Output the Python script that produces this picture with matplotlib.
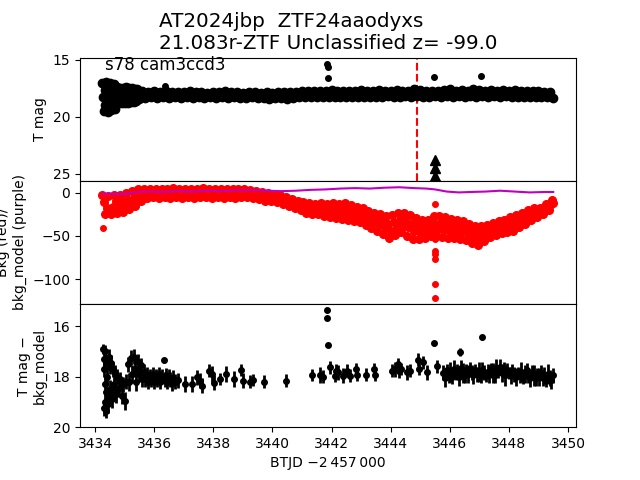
import matplotlib
matplotlib.use('Agg')
from matplotlib import pyplot as plt

TITLE = 'AT2024jbp  ZTF24aaodyxs\n21.083r-ZTF Unclassified z= -99.0'
SECTOR = 's78 cam3ccd3'
DISCOVERY = 3444.9
TMAG_ERR = 0.3

# full-cadence light curve (BTJD) and T mag
btjd = [
    3434.250, 3434.275, 3434.300, 3434.325, 3434.350, 3434.375, 3434.400,
    3434.425, 3434.450, 3434.475, 3434.500, 3434.525, 3434.550, 3434.575,
    3434.600, 3434.625, 3434.650, 3434.675, 3434.700, 3434.725, 3434.750,
    3434.775, 3434.800, 3434.825, 3434.850, 3434.875, 3434.900, 3434.925,
    3434.950, 3434.975, 3435.000, 3435.025, 3435.050, 3435.075, 3435.100,
    3435.125, 3435.150, 3435.175, 3435.200, 3435.225, 3435.250, 3435.275,
    3435.300, 3435.325, 3435.350, 3435.375, 3435.400, 3435.425, 3435.450,
    3435.475, 3435.500,
    3435.6, 3435.7, 3435.8, 3435.9, 3436.0, 3436.1, 3436.2, 3436.3, 3436.4, 3436.5,
    3436.6, 3436.7, 3436.8, 3436.9, 3437.0, 3437.1, 3437.2, 3437.3, 3437.4, 3437.5,
    3437.6, 3437.7, 3437.8, 3437.9, 3438.0, 3438.1, 3438.2, 3438.3, 3438.4, 3438.5,
    3438.6, 3438.7, 3438.8, 3438.9, 3439.0, 3439.1, 3439.2, 3439.3, 3439.4, 3439.5,
    3439.6, 3439.7, 3439.8, 3439.9, 3440.0, 3440.1, 3440.2, 3440.3, 3440.4, 3440.5,
    3440.6, 3440.7, 3440.8, 3440.9, 3441.0, 3441.1, 3441.2, 3441.3, 3441.4, 3441.5,
    3441.6, 3441.7, 3441.8, 3441.9, 3442.0, 3442.1, 3442.2, 3442.3, 3442.4, 3442.5,
    3442.6, 3442.7, 3442.8, 3442.9, 3443.0, 3443.1, 3443.2, 3443.3, 3443.4, 3443.5,
    3443.6, 3443.7, 3443.8, 3443.9, 3444.0, 3444.1, 3444.2, 3444.3, 3444.4, 3444.5,
    3444.6, 3444.7, 3444.8, 3444.9, 3445.0, 3445.1, 3445.2, 3445.3, 3445.4, 3445.5,
    3445.6, 3445.7, 3445.8, 3445.9, 3446.0, 3446.1, 3446.2, 3446.3, 3446.4, 3446.5,
    3446.6, 3446.7, 3446.8, 3446.9, 3447.0, 3447.1, 3447.2, 3447.3, 3447.4, 3447.5,
    3447.6, 3447.7, 3447.8, 3447.9, 3448.0, 3448.1, 3448.2, 3448.3, 3448.4, 3448.5,
    3448.6, 3448.7, 3448.8, 3448.9, 3449.0, 3449.1, 3449.2, 3449.3, 3449.4, 3449.5,
]
tmag = [
    17.00, 18.30, 19.50, 17.65, 18.95, 16.95, 18.25,
    19.55, 17.60, 18.90, 17.00, 18.30, 19.40, 17.70,
    18.90, 17.10, 18.30, 19.30, 17.80, 18.80, 17.40,
    18.00, 18.80, 18.40, 17.50, 18.10, 18.80, 18.40,
    17.45, 17.95, 18.75, 18.35, 17.40, 18.00, 18.80,
    18.40, 17.45, 17.95, 18.70, 18.30, 17.50, 18.00,
    18.70, 18.30, 17.55, 18.10, 18.60, 17.60, 18.45,
    17.70, 18.40,
    17.75, 18.35, 17.80, 18.30, 17.70, 18.35, 17.85, 18.30, 17.75, 18.35,
    17.80, 18.30, 17.85, 18.35, 17.80, 18.30, 17.75, 18.35, 17.85, 18.30,
    17.80, 18.35, 17.90, 18.30, 17.80, 18.35, 17.85, 18.30, 17.75, 18.35,
    17.85, 18.30, 17.80, 18.35, 17.90, 18.35, 17.80, 18.30, 17.85, 18.35,
    17.90, 18.35, 17.85, 18.40, 17.90, 18.35, 17.85, 18.35, 17.80, 18.40,
    17.85, 18.35, 17.80, 18.30, 17.75, 18.30, 17.70, 18.25, 17.75, 18.30,
    17.70, 18.25, 17.75, 18.30, 17.65, 18.25, 17.75, 18.25, 17.70, 18.30,
    17.75, 18.25, 17.70, 18.30, 17.65, 18.25, 17.75, 18.25, 17.70, 18.25,
    17.65, 18.25, 17.75, 18.20, 17.70, 18.25, 17.65, 18.25, 17.75, 18.20,
    17.70, 18.25, 17.60, 18.20, 17.65, 18.25, 17.75, 18.30, 17.70, 18.20,
    17.75, 18.25, 17.65, 18.20, 17.60, 18.25, 17.70, 18.20, 17.65, 18.25,
    17.70, 18.20, 17.60, 18.25, 17.65, 18.20, 17.75, 18.25, 17.65, 18.20,
    17.70, 18.25, 17.65, 18.20, 17.70, 18.25, 17.65, 18.25, 17.75, 18.25,
    17.70, 18.25, 17.75, 18.30, 17.70, 18.30, 17.80, 18.30, 17.85, 18.35,
]

# background flux
bkg_t = [
    3434.25, 3434.30, 3434.35, 3434.40, 3434.45, 3434.50, 3434.55, 3434.60, 3434.65, 3434.70,
    3434.75, 3434.80, 3434.85, 3434.90, 3434.95, 3435.00, 3435.05, 3435.10, 3435.15, 3435.20,
    3435.25, 3435.30, 3435.35, 3435.40, 3435.45, 3435.50, 3435.55, 3435.60, 3435.65, 3435.70,
    3435.75, 3435.80, 3435.85, 3435.90, 3435.95, 3436.00, 3436.05, 3436.10, 3436.15, 3436.20,
    3436.25, 3436.30, 3436.35, 3436.40, 3436.45, 3436.50, 3436.55, 3436.60, 3436.65, 3436.70,
    3436.75, 3436.80, 3436.85, 3436.90, 3436.95, 3437.00, 3437.05, 3437.10, 3437.15, 3437.20,
    3437.25, 3437.30, 3437.35, 3437.40, 3437.45, 3437.50, 3437.55, 3437.60, 3437.65, 3437.70,
    3437.75, 3437.80, 3437.85, 3437.90, 3437.95, 3438.00, 3438.05, 3438.10, 3438.15, 3438.20,
    3438.25, 3438.30, 3438.35, 3438.40, 3438.45, 3438.50, 3438.55, 3438.60, 3438.65, 3438.70,
    3438.75, 3438.80, 3438.85, 3438.90, 3438.95, 3439.00, 3439.05, 3439.10, 3439.15, 3439.20,
    3439.25, 3439.30, 3439.35, 3439.40, 3439.45, 3439.50, 3439.55, 3439.60, 3439.65, 3439.70,
    3439.75, 3439.80, 3439.85, 3439.90, 3439.95, 3440.00, 3440.05, 3440.10, 3440.15, 3440.20,
    3440.25, 3440.30, 3440.35, 3440.40, 3440.45, 3440.50, 3440.55, 3440.60, 3440.65, 3440.70,
    3440.75, 3440.80, 3440.85, 3440.90, 3440.95, 3441.00, 3441.05, 3441.10, 3441.15, 3441.20,
    3441.25, 3441.30, 3441.35, 3441.40, 3441.45, 3441.50, 3441.55, 3441.60, 3441.65, 3441.70,
    3441.75, 3441.80, 3441.85, 3441.90, 3441.95, 3442.00, 3442.05, 3442.10, 3442.15, 3442.20,
    3442.25, 3442.30, 3442.35, 3442.40, 3442.45, 3442.50, 3442.55, 3442.60, 3442.65, 3442.70,
    3442.75, 3442.80, 3442.85, 3442.90, 3442.95, 3443.00, 3443.05, 3443.10, 3443.15, 3443.20,
    3443.25, 3443.30, 3443.35, 3443.40, 3443.45, 3443.50, 3443.55, 3443.60, 3443.65, 3443.70,
    3443.75, 3443.80, 3443.85, 3443.90, 3443.95, 3444.00, 3444.05, 3444.10, 3444.15, 3444.20,
    3444.25, 3444.30, 3444.35, 3444.40, 3444.45, 3444.50, 3444.55, 3444.60, 3444.65, 3444.70,
    3444.75, 3444.80, 3444.85, 3444.90, 3444.95, 3445.00, 3445.05, 3445.10, 3445.15, 3445.20,
    3445.25, 3445.30, 3445.35, 3445.40, 3445.45, 3445.50, 3445.55, 3445.60, 3445.65, 3445.70,
    3445.75, 3445.80, 3445.85, 3445.90, 3445.95, 3446.00, 3446.05, 3446.10, 3446.15, 3446.20,
    3446.25, 3446.30, 3446.35, 3446.40, 3446.45, 3446.50, 3446.55, 3446.60, 3446.65, 3446.70,
    3446.75, 3446.80, 3446.85, 3446.90, 3446.95, 3447.00, 3447.05, 3447.10, 3447.15, 3447.20,
    3447.25, 3447.30, 3447.35, 3447.40, 3447.45, 3447.50, 3447.55, 3447.60, 3447.65, 3447.70,
    3447.75, 3447.80, 3447.85, 3447.90, 3447.95, 3448.00, 3448.05, 3448.10, 3448.15, 3448.20,
    3448.25, 3448.30, 3448.35, 3448.40, 3448.45, 3448.50, 3448.55, 3448.60, 3448.65, 3448.70,
    3448.75, 3448.80, 3448.85, 3448.90, 3448.95, 3449.00, 3449.05, 3449.10, 3449.15, 3449.20,
    3449.25, 3449.30, 3449.35, 3449.40, 3449.45, 3449.50,
]
bkg = [
    -3, -11, -24, -18, -4, -20, -25, -16, -3, -10,
    -23, -17, -2, -10, -22, -15, 0, -8, -19, -13,
    2, -6, -15, -9, 4, -2, -10, -4, 5, -1,
    -6, -2, 5, 1, -5, -2, 4, 1, -6, -1,
    5, 2, -5, -2, 4, 0, -6, -2, 6, 1,
    -5, -1, 4, 1, -6, -2, 5, 1, -5, -2,
    4, 0, -6, -2, 5, 2, -5, -1, 6, 1,
    -5, -2, 4, 0, -6, -2, 5, 1, -5, -1,
    4, 1, -6, -2, 5, 1, -5, -2, 4, 0,
    -6, -2, 4, 1, -5, -1, 4, 0, -5, -2,
    3, -1, -6, -3, 2, -2, -7, -4, 1, -3,
    -9, -5, 0, -4, -10, -6, -2, -5, -11, -7,
    -3, -7, -13, -9, -5, -9, -15, -11, -7, -11,
    -18, -13, -9, -14, -20, -15, -11, -16, -23, -17,
    -12, -16, -24, -19, -13, -17, -25, -20, -12, -18,
    -27, -21, -13, -18, -28, -22, -12, -19, -29, -23,
    -13, -20, -30, -24, -12, -20, -31, -25, -14, -22,
    -33, -26, -16, -23, -34, -27, -18, -25, -37, -30,
    -21, -28, -41, -34, -23, -31, -44, -37, -25, -34,
    -48, -40, -27, -36, -52, -44, -26, -34, -49, -41,
    -23, -31, -46, -38, -23, -33, -50, -40, -26, -36,
    -53, -44, -29, -38, -54, -45, -32, -40, -52, -44,
    -32, -40, -50, -42, -27, -36, -50, -42, -27, -35,
    -51, -43, -28, -37, -52, -44, -30, -38, -52, -45,
    -32, -40, -53, -46, -33, -41, -55, -48, -36, -44,
    -58, -51, -39, -46, -60, -52, -39, -46, -56, -48,
    -37, -43, -51, -45, -35, -41, -49, -43, -33, -39,
    -47, -41, -31, -37, -45, -40, -28, -35, -44, -38,
    -26, -32, -40, -35, -23, -29, -36, -31, -20, -26,
    -32, -27, -18, -23, -28, -24, -17, -20, -24, -20,
    -13, -17, -20, -14, -8, -12,
]

# isolated bright points and upper limits
flare_t = [3436.37, 3441.85, 3441.87, 3441.87, 3445.47, 3447.06]
flare_mag = [17.34, 15.38, 15.67, 16.60, 16.52, 16.40]
limit_t = [3445.5, 3445.5, 3445.5]
limit_mag = [23.8, 24.5, 25.2]

# background outliers
out_t = [3434.28, 3445.5, 3445.5, 3445.5, 3445.5, 3445.5, 3445.5, 3445.5]
out_bkg = [-41, -13, -53, -68, -71, -77, -106, -122]

# background model
model_t = [
    3434.25, 3434.5, 3434.8, 3435.1, 3435.4, 3435.8, 3436.3, 3436.8, 3437.3,
    3437.8, 3438.3, 3438.8, 3439.3, 3439.8, 3440.3, 3440.8, 3441.3, 3441.8,
    3442.3, 3442.8, 3443.3, 3443.8, 3444.3, 3444.8, 3445.2, 3445.5, 3445.9,
    3446.3, 3446.7, 3447.2, 3447.7, 3448.2, 3448.7, 3449.2, 3449.5,
]
model_bkg = [
    -1, -1, -1.5, -1, 1, 1.5, 1, 2, 1.5,
    2.5, 2, 3, 3, 2.5, 2, 2.5, 3.5, 4,
    5, 5.5, 5, 6, 6.5, 5.5, 5, 4, 1.5,
    0.5, 1, 1.5, 2.5, 1.5, 0.5, 1, 1,
]

# binned difference light curve
diff_t = [
    3434.27, 3434.29, 3434.30, 3434.31, 3434.32, 3434.33, 3434.35, 3434.36,
    3434.38, 3434.40, 3434.42, 3434.44, 3434.46, 3434.48, 3434.50, 3434.52,
    3434.55, 3434.58, 3434.60, 3434.63, 3434.66, 3434.70, 3434.75, 3434.80,
    3434.85, 3434.90, 3434.95, 3435.00, 3435.05,
    3435.10, 3435.15, 3435.20, 3435.25, 3435.30, 3435.35, 3435.40, 3435.45,
    3435.50, 3435.55, 3435.60, 3435.65,
    3435.70, 3435.75, 3435.80, 3435.85, 3435.90, 3435.95, 3436.00, 3436.05,
    3436.10, 3436.15, 3436.20, 3436.25, 3436.33, 3436.35, 3436.40, 3436.45,
    3436.50, 3436.55, 3436.60, 3436.65, 3436.72, 3436.80,
    3437.05, 3437.27, 3437.45, 3437.55, 3437.62, 3437.86, 3437.97, 3438.03,
    3438.24, 3438.43, 3438.71, 3438.92, 3439.00, 3439.24, 3439.35, 3439.72,
    3440.46, 3441.35, 3441.60, 3441.70, 3441.85, 3441.85, 3441.87, 3441.95,
    3442.12, 3442.14, 3442.23, 3442.40, 3442.51, 3442.63, 3442.83, 3442.85,
    3443.17, 3443.45, 3443.47, 3444.04, 3444.15, 3444.26, 3444.28, 3444.35,
    3444.55, 3444.66, 3444.94, 3444.97, 3445.11, 3445.22, 3445.48, 3445.58,
    3446.35, 3447.08,
    3445.78, 3445.84, 3445.90, 3445.96, 3446.02, 3446.08, 3446.14, 3446.20,
    3446.26, 3446.32, 3446.38, 3446.44, 3446.50, 3446.56, 3446.62, 3446.68,
    3446.74, 3446.80, 3446.86, 3446.92, 3446.98, 3447.04, 3447.10, 3447.16,
    3447.22, 3447.28, 3447.34, 3447.40, 3447.46, 3447.52, 3447.58, 3447.64,
    3447.70, 3447.76, 3447.82, 3447.88, 3447.94, 3448.00, 3448.06, 3448.12,
    3448.18, 3448.24, 3448.30, 3448.36, 3448.42, 3448.48, 3448.54, 3448.60,
    3448.66, 3448.72, 3448.78, 3448.84, 3448.90, 3448.96, 3449.02, 3449.08,
    3449.14, 3449.20, 3449.26, 3449.32, 3449.38, 3449.44, 3449.50,
]
diff_mag = [
    16.90, 17.30, 19.25, 17.70, 18.30, 19.00, 17.00, 18.60,
    19.35, 17.40, 18.00, 19.10, 17.20, 18.80, 17.60, 18.50,
    17.45, 18.90, 17.70, 18.30, 17.85, 18.70, 18.00, 18.45,
    18.10, 18.75, 18.30, 18.95, 18.20,
    17.50, 18.20, 17.25, 17.90, 17.20, 17.70, 18.20, 17.40,
    17.90, 17.55, 18.10, 17.80,
    18.10, 17.90, 18.20, 18.00, 18.10, 17.90, 18.20, 18.00,
    18.10, 17.90, 18.20, 18.00, 17.35, 18.10, 17.95, 18.20,
    18.00, 18.10, 18.25, 18.05, 18.20, 18.15,
    18.29, 18.29, 18.03, 18.16, 18.36, 17.76, 17.89, 18.23,
    18.09, 17.89, 18.09, 17.73, 18.16, 18.19, 18.13, 18.19,
    18.16, 17.93, 17.93, 18.00, 15.36, 15.68, 16.76, 17.63,
    17.96, 17.76, 17.83, 17.96, 17.76, 17.96, 17.70, 17.92,
    17.92, 17.70, 17.92, 17.76, 17.70, 17.50, 17.76, 17.70,
    17.83, 17.76, 17.33, 17.70, 17.43, 17.83, 16.67, 17.59,
    17.03, 16.43,
    17.85, 18.05, 17.75, 17.95, 17.80, 18.00, 17.70, 17.90,
    17.80, 18.00, 17.65, 17.85, 17.95, 17.75, 17.90, 17.70,
    17.85, 17.95, 17.75, 17.90, 17.80, 17.95, 17.75, 17.85,
    17.95, 17.80, 17.90, 17.75, 17.85, 17.95, 17.65, 17.80,
    17.60, 17.85, 17.70, 17.95, 17.75, 17.85, 17.95, 17.80,
    17.90, 18.00, 17.85, 17.95, 17.80, 18.00, 17.90, 17.75,
    17.95, 18.05, 17.85, 17.95, 18.05, 17.90, 18.00, 17.85,
    18.05, 17.95, 18.10, 17.90, 18.05, 18.15, 17.95,
]
diff_err = [
    0.20, 0.30, 0.30, 0.30, 0.35, 0.35, 0.25, 0.35,
    0.30, 0.30, 0.35, 0.35, 0.30, 0.35, 0.30, 0.35,
    0.30, 0.35, 0.30, 0.35, 0.30, 0.35, 0.30, 0.35,
    0.30, 0.35, 0.30, 0.35, 0.30,
    0.30, 0.35, 0.30, 0.35, 0.30, 0.30, 0.35, 0.30,
    0.30, 0.30, 0.30, 0.30,
    0.30, 0.30, 0.30, 0.30, 0.30, 0.30, 0.30, 0.30,
    0.30, 0.30, 0.30, 0.30, 0.10, 0.30, 0.30, 0.30,
    0.30, 0.30, 0.30, 0.30, 0.30, 0.30,
    0.30, 0.30, 0.30, 0.30, 0.30, 0.25, 0.30, 0.30,
    0.25, 0.30, 0.30, 0.25, 0.30, 0.25, 0.25, 0.25,
    0.25, 0.25, 0.30, 0.25, 0.05, 0.05, 0.05, 0.25,
    0.25, 0.25, 0.30, 0.30, 0.25, 0.25, 0.25, 0.25,
    0.25, 0.25, 0.25, 0.25, 0.30, 0.25, 0.30, 0.25,
    0.30, 0.25, 0.25, 0.25, 0.25, 0.30, 0.10, 0.25,
    0.15, 0.10,
    0.30, 0.35, 0.25, 0.30, 0.40, 0.30, 0.35, 0.25,
    0.30, 0.35, 0.30, 0.40, 0.30, 0.25, 0.35, 0.30,
    0.30, 0.35, 0.25, 0.30, 0.40, 0.30, 0.35, 0.30,
    0.25, 0.30, 0.35, 0.30, 0.40, 0.30, 0.35, 0.25,
    0.30, 0.35, 0.30, 0.40, 0.30, 0.25, 0.35, 0.30,
    0.30, 0.35, 0.25, 0.30, 0.40, 0.30, 0.35, 0.30,
    0.30, 0.35, 0.30, 0.40, 0.30, 0.25, 0.35, 0.30,
    0.30, 0.35, 0.30, 0.40, 0.30, 0.35, 0.30,
]


def _plot(path='out.png'):
    fig, (ax1, ax2, ax3) = plt.subplots(3, 1, sharex=True, figsize=(6.4, 4.8))
    fig.subplots_adjust(hspace=0)

    # light curve with upper limits
    ax1.errorbar(btjd, tmag, yerr=TMAG_ERR, fmt='ko', ms=6, elinewidth=1.5)
    ax1.plot(flare_t, flare_mag, 'ko', ms=4)
    ax1.plot(limit_t, limit_mag, 'k^', ms=7)
    ax1.axvline(DISCOVERY, color='r', ls='--', lw=1.5)
    ax1.text(0.05, 1.01, SECTOR, transform=ax1.transAxes, fontsize=12,
             va='top')
    ax1.set_ylim(25.6, 14.82)
    ax1.set_yticks([15, 20, 25])
    ax1.set_ylabel('T mag')
    ax1.set_title(TITLE, fontsize=14.3, ma='left')

    # background vs model
    ax2.plot(bkg_t, bkg, 'ro', ms=5.5)
    ax2.plot(out_t, out_bkg, 'ro', ms=4)
    ax2.plot(model_t, model_bkg, 'm-', lw=1.5)
    ax2.set_ylim(-129, 14)
    ax2.set_yticks([0, -50, -100])
    ax2.set_ylabel('Bkg (red)/\nbkg_model (purple)')

    # background-subtracted
    ax3.errorbar(diff_t, diff_mag, yerr=diff_err, fmt='ko', ms=4,
                 elinewidth=2)
    ax3.set_ylim(20, 15.12)
    ax3.set_yticks([16, 18, 20])
    ax3.set_ylabel('T mag \u2212\nbkg_model')
    ax3.set_xlabel('BTJD \u22122\u2009457\u2009000')

    ax3.set_xlim(3433.49, 3450.27)
    ax3.set_xticks([3434, 3436, 3438, 3440, 3442, 3444, 3446, 3448, 3450])

    plt.savefig(path)
    return True


_plot()
